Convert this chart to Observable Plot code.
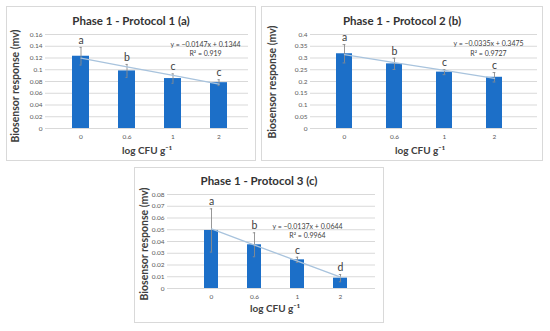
<!DOCTYPE html>
<html><head><meta charset="utf-8">
<script src="https://cdn.jsdelivr.net/npm/d3@7"></script>
<script src="https://cdn.jsdelivr.net/npm/@observablehq/plot@0.6"></script>
<style>
body{margin:0;background:#fff;font-family:Lato,"Open Sans",sans-serif;}
#root{position:relative;width:550px;height:331px;overflow:hidden;background:#fff}
.panel{position:absolute;outline:1px solid #d9d9d9;background:#fff}
.panel svg{position:absolute;left:0;top:0}
.title{position:absolute;left:0;right:0;text-align:center;font-weight:bold;font-size:11.5px;color:#333;line-height:1;transform:translateY(-50%)}
.xt,.yt{position:absolute;font-weight:bold;font-size:10px;color:#404040;white-space:nowrap;line-height:1}
.yt{font-size:10.5px;transform:translate(-50%,-50%) rotate(-90deg)}
.xt{transform:translate(-50%,-50%)}
</style></head><body><div id="root"></div>
<script>
const categories = ["0", "0.6", "1", "2"];
const titles = ["Phase 1 - Protocol 1 (a)", "Phase 1 - Protocol 2 (b)", "Phase 1 - Protocol 3 (c)"];
const yTitle = "Biosensor response (mv)";
const xTitle = "log CFU g⁻¹";

const values1 = [0.123, 0.098, 0.085, 0.078];
const errors1 = [0.015, 0.011, 0.008, 0.005];
const letters1 = ["a", "b", "c", "c"];
const yTicks1 = [0, 0.02, 0.04, 0.06, 0.08, 0.1, 0.12, 0.14, 0.16];

const values2 = [0.318, 0.275, 0.240, 0.218];
const errors2 = [0.039, 0.024, 0.011, 0.020];
const letters2 = ["a", "b", "c", "c"];
const yTicks2 = [0, 0.05, 0.1, 0.15, 0.2, 0.25, 0.3, 0.35, 0.4];

const values3 = [0.0494, 0.0372, 0.0244, 0.0088];
const errors3 = [0.0184, 0.0102, 0.0022, 0.0031];
const letters3 = ["a", "b", "c", "d"];
const yTicks3 = [0, 0.01, 0.02, 0.03, 0.04, 0.05, 0.06, 0.07, 0.08];

const slopes = [-0.0147, -0.0335, -0.0137];
const intercepts = [0.1344, 0.3475, 0.0644];
const equations = ["y = −0.0147x + 0.1344", "y = −0.0335x + 0.3475", "y = −0.0137x + 0.0644"];
const r2s = ["R² = 0.919", "R² = 0.9727", "R² = 0.9964"];

const panels = [
  {left:7, top:7, w:248, h:153, ml:38, mr:7, mt:27, mb:32, xr:[36.3,249.7], pad:0.625,
   values:values1, errors:errors1, letters:letters1, ticks:yTicks1,
   eqDx:-43, eqDy:5.5, titleY:14, xtX:140, xtY:143, ytX:8, ytY:79},
  {left:262, top:7, w:280, h:153, ml:48, mr:5, mt:27, mb:32, xr:[39.6,274.8], pad:0.69,
   values:values2, errors:errors2, letters:letters2, ticks:yTicks2,
   eqDx:-49, eqDy:5, titleY:14, xtX:158, xtY:143, ytX:10, ytY:75},
  {left:135, top:168, w:248, h:154, ml:32, mr:8, mt:26, mb:34, xr:[39.5,241.2], pad:0.67,
   values:values3, errors:errors3, letters:letters3, ticks:yTicks3,
   eqDx:-68, eqDy:27.5, titleY:13, xtX:140, xtY:140, ytX:9, ytY:76}
];

const root = document.getElementById("root");
panels.forEach((p, k) => {
  const data = categories.map((c, i) => ({
    c, v: p.values[i], e: p.errors[i], l: p.letters[i],
    t: slopes[k] * (i + 1) + intercepts[k]
  }));
  const bw = (p.xr[1] - p.xr[0]) / 4 * (1 - p.pad);
  const capInset = Math.max(0, (bw - 5) / 2);
  const div = document.createElement("div");
  div.className = "panel";
  Object.assign(div.style, {left: p.left + "px", top: p.top + "px", width: p.w + "px", height: p.h + "px"});
  const chart = Plot.plot({
    width: p.w, height: p.h,
    marginLeft: p.ml, marginRight: p.mr, marginTop: p.mt, marginBottom: p.mb,
    style: {fontFamily: "Lato, 'Open Sans', sans-serif", fontSize: "6.5px", color: "#595959", background: "transparent", overflow: "visible"},
    x: {type: "band", domain: categories, range: p.xr, padding: p.pad, label: null},
    y: {domain: [0, p.ticks[p.ticks.length - 1]], label: null},
    marks: [
      Plot.gridY(p.ticks, {stroke: "#d9d9d9", strokeOpacity: 1}),
      Plot.axisY(p.ticks, {tickSize: 0, tickPadding: 3, tickFormat: d => String(d), label: null, fill: "#595959"}),
      Plot.axisX({tickSize: 0, tickPadding: 6, label: null, fill: "#595959"}),
      Plot.barY(data, {x: "c", y: "v", fill: "#1c6fc8"}),
      Plot.ruleX(data, {x: "c", y1: d => d.v - d.e, y2: d => d.v + d.e, stroke: "#8c8c8c", strokeWidth: 0.9}),
      Plot.tickY(data, {x: "c", y: d => d.v + d.e, insetLeft: capInset, insetRight: capInset, stroke: "#8c8c8c", strokeWidth: 0.9}),
      Plot.tickY(data, {x: "c", y: d => d.v - d.e, insetLeft: capInset, insetRight: capInset, stroke: "#8c8c8c", strokeWidth: 0.9}),
      Plot.line(data, {x: "c", y: "t", stroke: "#a8c3dd", strokeWidth: 1.3}),
      Plot.text(data, {x: "c", y: d => d.v + d.e, text: "l", dy: -7, fontSize: 10.5, fill: "#404040"}),
      Plot.text([equations[k] + "\n" + r2s[k]], {frameAnchor: "top-right", dx: p.eqDx, dy: p.eqDy, textAnchor: "middle", lineAnchor: "top", lineHeight: 1.35, fontSize: 7, fill: "#404040"})
    ]
  });
  div.appendChild(chart);
  const t = document.createElement("div");
  t.className = "title"; t.textContent = titles[k]; t.style.top = p.titleY + "px";
  div.appendChild(t);
  const xt = document.createElement("div");
  xt.className = "xt"; xt.textContent = xTitle; xt.style.left = p.xtX + "px"; xt.style.top = p.xtY + "px";
  div.appendChild(xt);
  const yt = document.createElement("div");
  yt.className = "yt"; yt.textContent = yTitle; yt.style.left = p.ytX + "px"; yt.style.top = p.ytY + "px";
  div.appendChild(yt);
  root.appendChild(div);
});
</script></body></html>
